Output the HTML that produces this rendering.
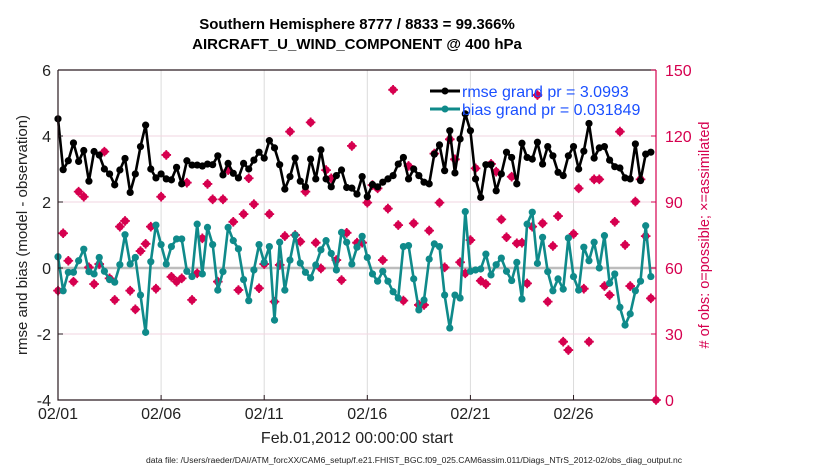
<!DOCTYPE html>
<html><head><meta charset="utf-8">
<style>
html,body{margin:0;padding:0;background:#fff;}
svg{display:block;font-family:"Liberation Sans",Arial,sans-serif;}
</style></head>
<body>
<svg id="chart" width="830" height="470" viewBox="0 0 830 470" xmlns="http://www.w3.org/2000/svg">
  <text x="357" y="29" text-anchor="middle" font-size="15" font-weight="bold">Southern Hemisphere 8777 / 8833 = 99.366%</text>
  <text x="357" y="49" text-anchor="middle" font-size="15" font-weight="bold">AIRCRAFT_U_WIND_COMPONENT @ 400 hPa</text>
  <g id="grid"></g>
  <g id="marks"></g>
  <g id="axes"></g>
  <text transform="translate(27,235) rotate(-90)" text-anchor="middle" font-size="15" fill="#222">rmse and bias (model - observation)</text>
  <text transform="translate(709,235) rotate(-90)" text-anchor="middle" font-size="14.5" fill="#d6004f"># of obs: o=possible; ×=assimilated</text>
  <text x="357" y="443" text-anchor="middle" font-size="16" fill="#222">Feb.01,2012 00:00:00 start</text>
  <text x="146" y="463" font-size="8" fill="#222" textLength="536" lengthAdjust="spacingAndGlyphs">data file: /Users/raeder/DAI/ATM_forcXX/CAM6_setup/f.e21.FHIST_BGC.f09_025.CAM6assim.011/Diags_NTrS_2012-02/obs_diag_output.nc</text>
  <g>
    <line x1="430" y1="91" x2="460" y2="91" stroke="#000" stroke-width="3"/>
    <circle cx="445" cy="91" r="3.5" fill="#000"/>
    <text x="462" y="97" font-size="16" fill="#1a4fff">rmse grand pr = 3.0993</text>
    <line x1="430" y1="109" x2="460" y2="109" stroke="#0f8a8a" stroke-width="3"/>
    <circle cx="445" cy="109" r="3.5" fill="#0f8a8a"/>
    <text x="462" y="115" font-size="16" fill="#1a4fff">bias grand pr = 0.031849</text>
  </g>
</svg>
<script>
const tickDays = [0,5,10,15,20,25];
const tickLabels = ["02/01","02/06","02/11","02/16","02/21","02/26"];
const leftTicks = [-4,-2,0,2,4,6];
const rightTicks = [0,30,60,90,120,150];
const rmse = [4.52,2.98,3.25,3.79,3.23,3.56,2.63,3.53,3.42,3.0,2.85,2.52,2.97,3.32,2.29,2.85,3.68,4.33,3.0,2.73,2.85,2.70,2.67,3.05,2.55,3.25,3.12,3.12,3.09,3.15,
3.13,3.40,2.82,3.17,2.87,2.73,3.17,3.0,3.27,3.51,3.33,3.86,3.64,3.13,2.39,2.77,3.33,2.63,2.46,3.30,2.70,3.58,2.70,2.46,2.80,2.97,2.44,2.42,2.24,
2.77,2.16,2.53,2.46,2.60,2.70,2.80,3.15,3.35,2.70,3.0,2.80,2.60,2.55,3.45,3.73,2.95,4.16,2.88,3.91,4.67,4.16,2.70,2.14,3.13,3.13,2.34,2.85,3.51,
3.35,2.55,3.78,3.35,3.30,3.81,3.15,3.68,3.40,2.90,2.80,3.40,3.68,3.0,3.54,4.38,3.33,3.64,3.68,3.27,3.07,3.03,2.73,2.70,3.76,2.65,3.45,3.51];
const bias = [0.34,-0.69,-0.13,-0.13,0.22,0.57,-0.11,-0.18,0.32,-0.10,-0.35,-0.43,0.10,1.01,0.12,0.32,-0.82,-1.95,0.19,1.30,0.71,0.12,0.65,0.88,0.88,-0.10,-0.26,1.33,-0.18,1.23,
0.71,-0.67,-0.11,1.23,0.83,0.58,-0.35,-0.99,-0.06,0.71,0.17,0.65,-1.58,0.78,-0.67,0.24,1.0,0.15,-0.13,-0.30,0.09,0.55,0.83,0.44,-0.06,1.08,0.78,0.12,0.63,
0.96,0.32,-0.18,-0.40,-0.10,-0.40,-0.72,-0.91,0.65,0.68,-0.33,-1.27,-0.97,0.27,0.73,0.65,-0.82,-1.82,-0.82,-0.91,1.71,-0.10,-0.06,-0.03,0.42,-0.21,0.10,0.30,-0.10,
-0.38,0.17,-0.94,1.33,1.69,0.14,0.93,-0.11,-0.69,-0.33,-0.64,0.91,-0.26,-0.67,0.63,0.22,0.78,0.0,0.98,-0.46,-0.18,-1.19,-1.73,-1.39,-0.69,-0.40,1.28,-0.26];
const obsCount = [49.7,75.8,63.3,53.8,94.7,92.4,60.3,52.7,61.8,112.9,55.3,45.5,78.8,81.4,49.7,41.2,67.7,71,78.8,50.6,92.4,111.4,56,53.8,55.3,98.8,45.5,57.6,73.5,98.2,
91.2,53.8,91.2,104.5,81,50,84.5,100.8,89,50.8,61.8,84.5,44.7,61.4,74.5,122,75,72,94.7,126.2,71.5,59.8,104.5,100.8,63.6,54.5,76,115.5,71.5,
71.5,89.7,97.7,96.2,63.6,87,141,79.5,45.2,106.4,80.3,43.2,43.2,77,112,89.7,60.3,118.5,109.4,62.6,57.6,72.7,105.3,54.2,52.7,107.3,103.8,82.1,74,
101.5,71.2,71.5,53,78.8,138.6,80.3,44.7,70,83.6,26.5,22.7,75.5,96.2,50.6,26.5,100.3,100.3,51.8,47.7,81,122,70.5,51.8,90.2,100.3,74.5,46.2,0];

const NS="http://www.w3.org/2000/svg";
const X0=58,X1=656,Y0=70,Y1=400,DAYS=29;
function xDay(d){return X0+(X1-X0)*d/DAYS;}
function xIdx(i){return xDay(i*0.25);}
function yL(v){return Y1-(v+4)/10*(Y1-Y0);}
function yR(v){return Y1-v/150*(Y1-Y0);}
function mk(tag,attrs,parent){const e=document.createElementNS(NS,tag);for(const k in attrs)e.setAttribute(k,attrs[k]);parent.appendChild(e);return e;}
const grid=document.getElementById('grid'),marks=document.getElementById('marks'),axes=document.getElementById('axes');

for(const d of tickDays){if(d===0)continue;
  const l=mk('line',{x1:xDay(d),x2:xDay(d),y1:Y0,y2:Y1,stroke:'#dcdcdc','stroke-width':1},grid);
  
  }
for(const v of rightTicks){if(v===0||v===150||v===60)continue;
  const l=mk('line',{x1:X0,x2:X1,y1:yR(v),y2:yR(v),stroke:'#f2d6e0','stroke-width':1},grid);
  
  }
const zl=mk('line',{x1:X0,x2:X1,y1:yL(0),y2:yL(0),stroke:'#bdbdbd','stroke-width':2.5},grid);



obsCount.forEach((v,i)=>{
  const g=mk('g',{},marks);
  
  
  const cx=xIdx(i),cy=yR(v);
  mk('circle',{cx:cx,cy:cy,r:3.8,fill:'#d6004f'},g);
  mk('path',{d:`M${cx-4.8} ${cy}H${cx+4.8}M${cx} ${cy-4.8}V${cy+4.8}`,stroke:'#d6004f','stroke-width':1.8},g);
});

function series(vals,color,name){
  const pts=vals.map((v,i)=>xIdx(i).toFixed(1)+','+yL(v).toFixed(1)).join(' ');
  const pl=mk('polyline',{points:pts,fill:'none',stroke:color,'stroke-width':2.6,'stroke-linejoin':'round'},marks);
  
  
  vals.forEach((v,i)=>{
    const c=mk('circle',{cx:xIdx(i),cy:yL(v),r:3.6,fill:color},marks);
    
    
  });
}
series(bias,'#0f8a8a','bias');
series(rmse,'#000000','rmse');

const la=mk('path',{d:`M${X0} ${Y0}V${Y1}H${X1}`,fill:'none',stroke:'#2a1a20','stroke-width':1.2},axes);


const tl=mk('line',{x1:X0,x2:X1,y1:Y0,y2:Y0,stroke:'#2a1a20','stroke-width':1.2},axes);


const ra=mk('line',{x1:X1,x2:X1,y1:Y0,y2:Y1,stroke:'#d6004f','stroke-width':1.2},axes);


leftTicks.forEach(v=>{
  const t=mk('text',{x:X0-7,y:yL(v)+6,'text-anchor':'end','font-size':16,fill:'#222'},axes);
  t.textContent=String(v);
  
  
  mk('line',{x1:X0,x2:X0+5,y1:yL(v),y2:yL(v),stroke:'#2a1a20'},axes);
});
rightTicks.forEach(v=>{
  const t=mk('text',{x:X1+9,y:yR(v)+6,'font-size':16,fill:'#d6004f'},axes);
  t.textContent=String(v);
  
  
  mk('line',{x1:X1-5,x2:X1,y1:yR(v),y2:yR(v),stroke:'#d6004f'},axes);
});
tickDays.forEach((d,i)=>{
  const t=mk('text',{x:xDay(d),y:Y1+19,'text-anchor':'middle','font-size':16,fill:'#222'},axes);
  t.textContent=tickLabels[i];
  
  
  mk('line',{x1:xDay(d),x2:xDay(d),y1:Y1,y2:Y1-5,stroke:'#2a1a20'},axes);
});
</script>
</body></html>
